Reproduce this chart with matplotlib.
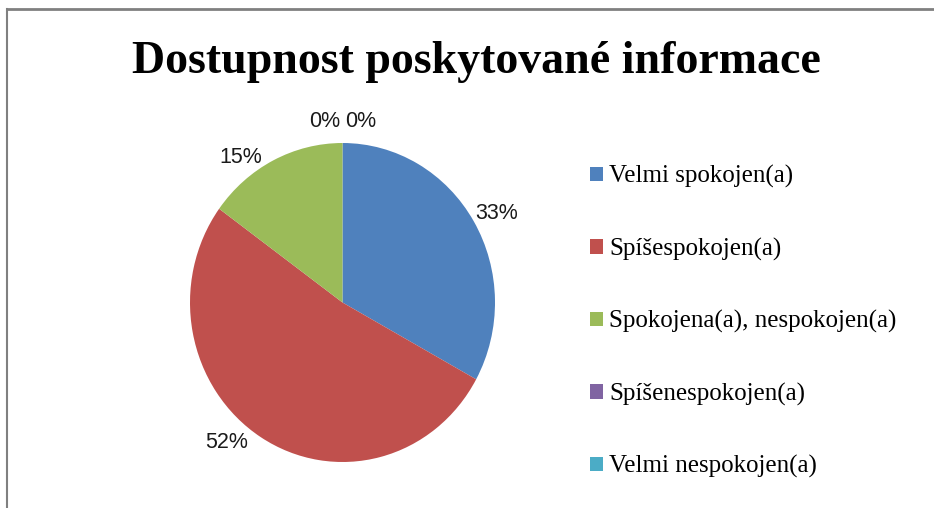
import matplotlib
matplotlib.use("Agg")
import matplotlib.pyplot as plt
from matplotlib.patches import Patch
from matplotlib.lines import Line2D

title = "Dostupnost poskytované informace"
categories = ["Velmi spokojen(a)", "Spíšespokojen(a)", "Spokojena(a), nespokojen(a)",
              "Spíšenespokojen(a)", "Velmi nespokojen(a)"]
values = [33, 52, 15, 0, 0]
colors = ["#4F81BD", "#C0504D", "#9BBB59", "#8064A2", "#4BACC6"]
# label positions in pie-radius units (x, y)
label_pos = [(1.01, 0.56), (-0.76, -0.88), (-0.67, 0.91), (-0.12, 1.135), (0.12, 1.135)]

W, H = 934, 508
fig = plt.figure(figsize=(W / 100, H / 100), dpi=100)
fig.patch.set_facecolor("white")

# pie axes: bounding box of the (slightly stretched) pie in pixels
x0, x1, y0, y1 = 190, 495, 143, 462
ax = fig.add_axes([x0 / W, 1 - y1 / H, (x1 - x0) / W, (y1 - y0) / H])
wedges, _ = ax.pie(values, colors=colors, startangle=90, counterclock=False,
                   radius=1.0, wedgeprops=dict(linewidth=0))
ax.set_aspect("auto")
ax.set_xlim(-1, 1)
ax.set_ylim(-1, 1)
ax.axis("off")

for v, (lx, ly) in zip(values, label_pos):
    ax.text(lx, ly, f"{v}%", ha="center", va="center", fontsize=15.5,
            family="Liberation Sans", color="#1a1a1a", clip_on=False)

fig.text(476 / W, 1 - 62 / H, title, ha="center", va="center",
         fontsize=33, fontweight="bold", family="Liberation Serif")

handles = [Patch(facecolor=c, edgecolor="none") for c in colors]
leg = fig.legend(handles, categories, loc="upper left",
                 bbox_to_anchor=(590 / W, 1 - 165 / H), frameon=False,
                 prop=dict(family="Liberation Serif", size=18),
                 handlelength=0.52, handleheight=0.52, handletextpad=0.25,
                 labelspacing=1.98, borderaxespad=0, borderpad=0)

# border lines (top and left)
fig.add_artist(Line2D([7 / W, 1], [1 - 9 / H, 1 - 9 / H], color="#808080", lw=2,
                      transform=fig.transFigure))
fig.add_artist(Line2D([7 / W, 7 / W], [0, 1 - 9 / H], color="#808080", lw=1.5,
                      transform=fig.transFigure))

fig.savefig("out.png", dpi=100)
